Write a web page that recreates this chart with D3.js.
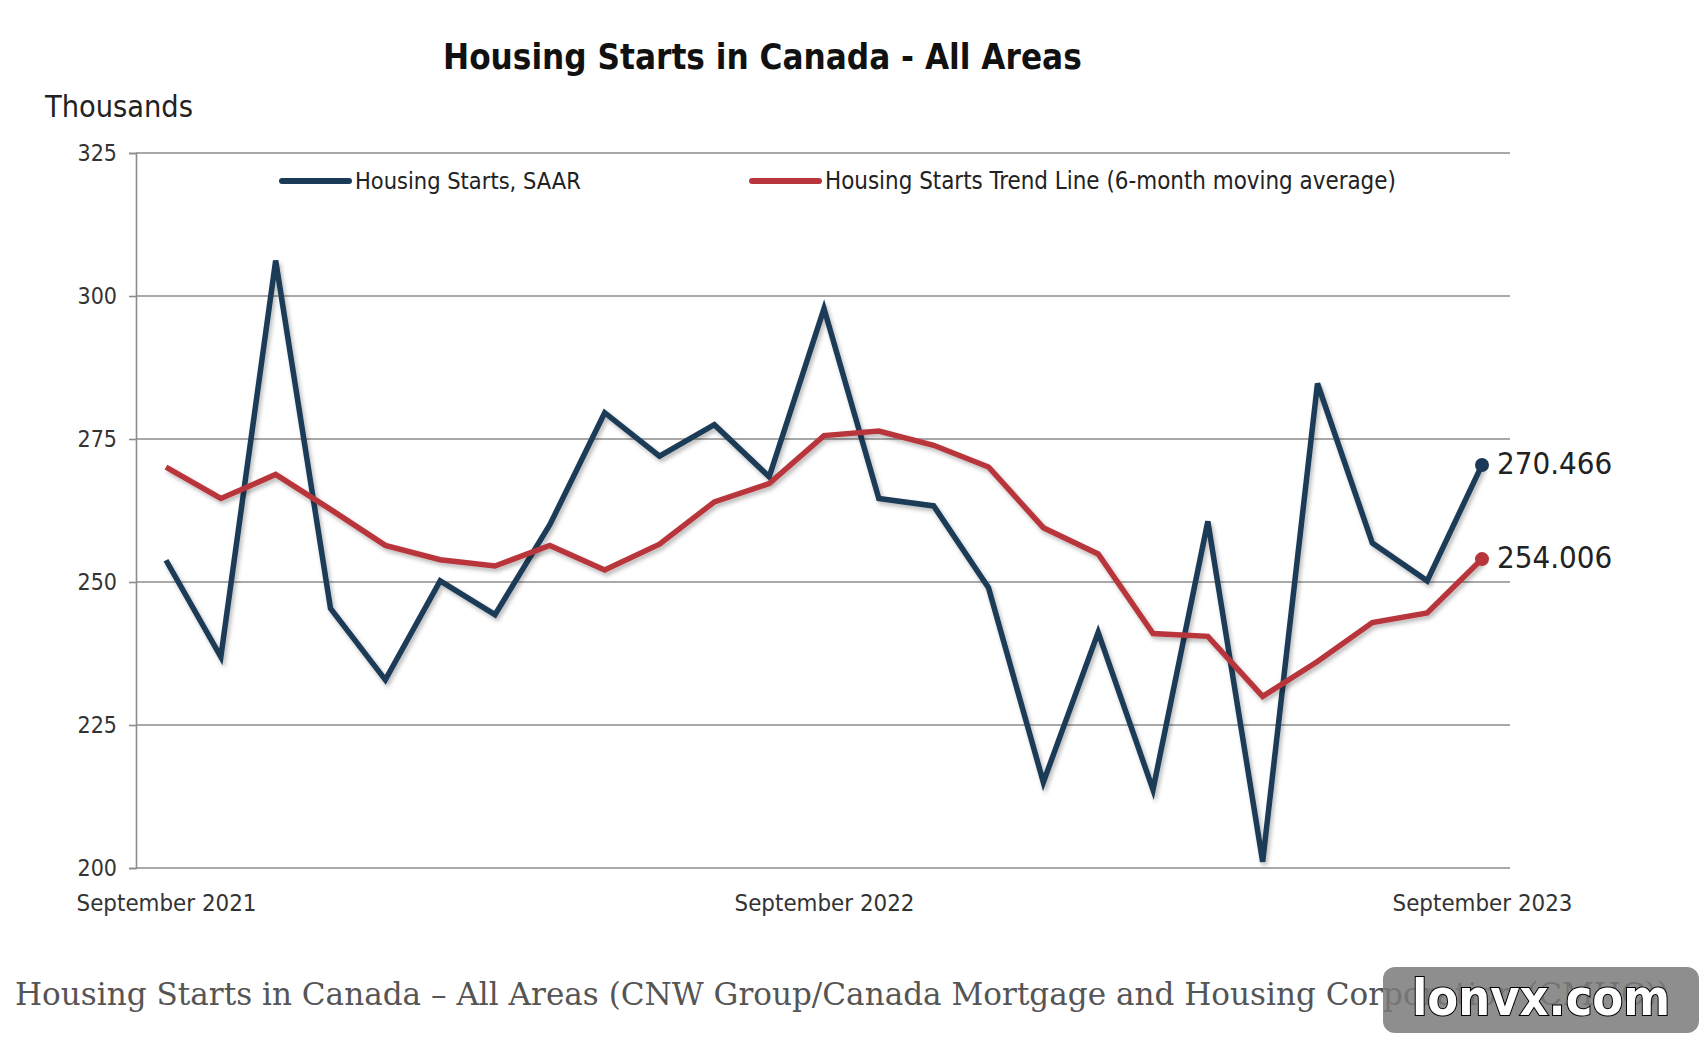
<!DOCTYPE html>
<html>
<head>
<meta charset="utf-8">
<script src="https://cdn.jsdelivr.net/npm/d3@7"></script>
<style>
  body { margin: 0; background: #fff; }
  svg text { font-family: "Liberation Sans Narrow", "DejaVu Sans Condensed", "Roboto", sans-serif; }
</style>
</head>
<body>
<div id="chart"></div>
<script>
// monthly data, Sep 2021 .. Sep 2023 (thousands of units, SAAR)
var months = ["2021-09","2021-10","2021-11","2021-12","2022-01","2022-02","2022-03","2022-04",
  "2022-05","2022-06","2022-07","2022-08","2022-09","2022-10","2022-11","2022-12",
  "2023-01","2023-02","2023-03","2023-04","2023-05","2023-06","2023-07","2023-08","2023-09"];

var starts = [253.8, 236.9, 306.2, 245.4, 232.9, 250.2, 244.3, 260.0, 279.6, 272.0, 277.5, 268.4,
  297.8, 264.6, 263.3, 249.0, 215.0, 241.2, 213.7, 260.6, 201.1, 284.7, 256.8, 250.2, 270.466];

var trend = [270.1, 264.6, 268.8, 262.7, 256.4, 253.9, 252.8, 256.4, 252.1, 256.6, 264.0, 267.2,
  275.6, 276.4, 273.9, 270.1, 259.5, 254.9, 241.0, 240.5, 230.0, 236.1, 242.9, 244.6, 254.006];

var yTicks = [200, 225, 250, 275, 300, 325];
var xTickLabels = {"2021-09": "September 2021", "2022-09": "September 2022", "2023-09": "September 2023"};

var seriesNames = ["Housing Starts, SAAR", "Housing Starts Trend Line (6-month moving average)"];
var seriesColors = ["#1b3a57", "#b8353b"];

var svgWidth = 1704;
var svgHeight = 1046;

var margin = { top: 153, bottom: 178, right: 194, left: 136 };
var width = svgWidth - margin.left - margin.right;
var height = svgHeight - margin.top - margin.bottom;

var svg = d3.select("#chart").append("svg")
    .attr("width", svgWidth)
    .attr("height", svgHeight);

// soft shadow like the spreadsheet chart
var defs = svg.append("defs");
var shadow = defs.append("filter").attr("id", "shadow")
    .attr("x", "-5%").attr("y", "-5%").attr("width", "110%").attr("height", "110%");
shadow.append("feDropShadow")
    .attr("dx", 2).attr("dy", 3).attr("stdDeviation", 2)
    .attr("flood-color", "#000").attr("flood-opacity", 0.28);

// fit a text element to a width by scaling its font-size
function fitText(sel, w) {
    var cur = sel.node().getComputedTextLength();
    var fs = parseFloat(sel.style("font-size"));
    sel.style("font-size", (fs * w / cur) + "px");
}

var chartGroup = svg.append("g")
    .attr("transform", `translate(${margin.left}, ${margin.top})`);

var xScale = d3.scalePoint()
    .domain(months)
    .range([30, width - 28]);

var yScale = d3.scaleLinear()
    .domain([200, 325])
    .range([height, 0]);

// gridlines
chartGroup.append("g")
    .selectAll("line")
    .data(yTicks)
    .enter()
    .append("line")
    .attr("x1", 0)
    .attr("x2", width)
    .attr("y1", d => yScale(d))
    .attr("y2", d => yScale(d))
    .attr("stroke", "#8c8c8c")
    .attr("stroke-width", 1.6);

// y axis
var leftAxis = d3.axisLeft(yScale).tickValues(yTicks).tickSize(7).tickPadding(12);
var yAxis = chartGroup.append("g").call(leftAxis);
yAxis.select(".domain").attr("stroke", "#8c8c8c").attr("stroke-width", 1.6);
yAxis.selectAll(".tick line").attr("stroke", "#8c8c8c").attr("stroke-width", 1.6);
yAxis.selectAll(".tick text")
    .style("font-size", "23px")
    .attr("fill", "#333");

// x labels
var bottomAxis = d3.axisBottom(xScale)
    .tickValues(Object.keys(xTickLabels))
    .tickFormat(d => xTickLabels[d])
    .tickSize(0).tickPadding(26);
var xAxis = chartGroup.append("g")
    .attr("transform", `translate(0, ${height})`)
    .call(bottomAxis);
xAxis.select(".domain").remove();
xAxis.selectAll(".tick text")
    .style("font-size", "23px")
    .attr("fill", "#333")
    .each(function() { fitText(d3.select(this), 180); });

// lines
var line = d3.line()
    .x((d, i) => xScale(months[i]))
    .y(d => yScale(d));

[starts, trend].forEach(function(series, k) {
    chartGroup.append("path")
        .datum(series)
        .attr("d", line)
        .attr("fill", "none")
        .attr("stroke", seriesColors[k])
        .attr("stroke-width", 5.5)
        .attr("stroke-linejoin", "miter")
        .attr("filter", "url(#shadow)");

    var last = series.length - 1;
    chartGroup.append("circle")
        .attr("cx", xScale(months[last]))
        .attr("cy", yScale(series[last]))
        .attr("r", 7)
        .attr("fill", seriesColors[k]);

    chartGroup.append("text")
        .attr("x", xScale(months[last]) + 15)
        .attr("y", yScale(series[last]))
        .attr("dy", "0.3em")
        .style("font-size", "31px")
        .attr("fill", "#222")
        .text(series[last].toFixed(3));
});

// legend
var legendX = [146, 616];
var legendW = [226, 571];
seriesNames.forEach(function(name, k) {
    var g = chartGroup.append("g")
        .attr("transform", `translate(${legendX[k]}, ${yScale(325) + 28})`);
    g.append("line")
        .attr("x1", 0).attr("x2", 67)
        .attr("stroke", seriesColors[k])
        .attr("stroke-width", 6)
        .attr("stroke-linecap", "round");
    var t = g.append("text")
        .attr("x", 73)
        .attr("dy", "0.35em")
        .style("font-size", "21px")
        .attr("fill", "#222")
        .text(name);
    fitText(t, legendW[k]);
});

// title and unit
var title = svg.append("text")
    .attr("x", 443)
    .attr("y", 69)
    .style("font-size", "38px")
    .style("font-weight", "bold")
    .attr("fill", "#111")
    .text("Housing Starts in Canada - All Areas");
fitText(title, 639);

var unit = svg.append("text")
    .attr("x", 45)
    .attr("y", 117)
    .style("font-size", "29px")
    .attr("fill", "#222")
    .text("Thousands");
fitText(unit, 148);

// caption below the image
var caption = svg.append("text")
    .attr("x", 15)
    .attr("y", 1005)
    .style("font-family", "'DejaVu Serif', 'Liberation Serif', serif")
    .style("font-size", "29px")
    .attr("fill", "#555")
    .text("Housing Starts in Canada \u2013 All Areas (CNW Group/Canada Mortgage and Housing Corporation (CMHC))");
fitText(caption, 1655);

// watermark
var wm = svg.append("g");
wm.append("rect")
    .attr("x", 1383).attr("y", 967)
    .attr("width", 316).attr("height", 66)
    .attr("rx", 12)
    .attr("fill", "#7a7a7a")
    .attr("opacity", 0.85);
wm.append("text")
    .attr("x", 1541).attr("y", 1015)
    .attr("text-anchor", "middle")
    .style("font-size", "50px")
    .style("font-weight", "bold")
    .attr("fill", "#fff")
    .attr("stroke", "#000")
    .attr("stroke-width", 2)
    .attr("paint-order", "stroke")
    .text("lonvx.com");
</script>
</body>
</html>
